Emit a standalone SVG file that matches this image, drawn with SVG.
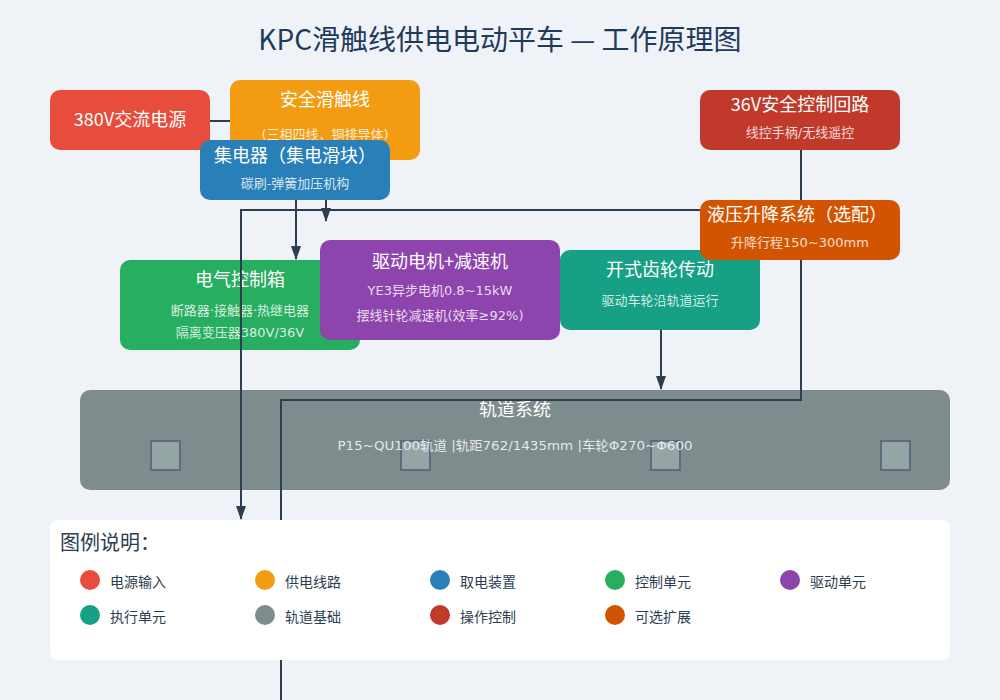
<svg xmlns="http://www.w3.org/2000/svg" width="1000" height="700" viewBox="0 0 1000 700">
<defs>
<marker id="arr" markerWidth="14" markerHeight="10" refX="13" refY="5" orient="auto" markerUnits="userSpaceOnUse">
<path d="M0,0 L14,5 L0,10 Z" fill="#2c3e50"/>
</marker>
<style>
text{font-family:"Noto Sans CJK SC","DejaVu Sans",sans-serif}
.t{fill:#fff;font-size:18px;text-anchor:middle}
.s{fill:#fff;fill-opacity:0.82;font-size:13px;text-anchor:middle;font-family:"DejaVu Sans","Noto Sans CJK SC",sans-serif}
.c{stroke:#2c3e50;stroke-width:2;fill:none}
.sq{fill:#95a5a6;stroke:#5d6d7e;stroke-width:2}
.lg{fill:#2c3e50;font-size:14px}
</style>
</defs>
<rect width="1000" height="700" fill="#eff3f8"/>
<text x="500" y="50" text-anchor="middle" font-size="28" fill="#1f3b5c">KPC滑触线供电电动平车 — 工作原理图</text>

<g id="power">
<rect x="50" y="90" width="160" height="60" rx="10" fill="#e74c3c"/>
<text class="t" x="130" y="126">380V交流电源</text>
</g>
<g id="rail-line">
<rect x="230" y="80" width="190" height="80" rx="10" fill="#f39c12"/>
<text class="t" x="325" y="106">安全滑触线</text>
<text class="s" x="325" y="139">(三相四线，铜排导体)</text>
</g>
<g id="collector">
<rect x="200" y="140" width="190" height="60" rx="10" fill="#2980b9"/>
<text class="t" x="295" y="162">集电器（集电滑块）</text>
<text class="s" x="295" y="188">碳刷-弹簧加压机构</text>
</g>
<g id="control36">
<rect x="700" y="90" width="200" height="60" rx="10" fill="#c0392b"/>
<text class="t" x="800" y="111">36V安全控制回路</text>
<text class="s" x="800" y="137">线控手柄/无线遥控</text>
</g>
<g id="cabinet">
<rect x="120" y="260" width="240" height="90" rx="10" fill="#27ae60"/>
<text class="t" x="240" y="286">电气控制箱</text>
<text class="s" x="240" y="315">断路器·接触器·热继电器</text>
<text class="s" x="240" y="337">隔离变压器380V/36V</text>
</g>
<g id="motor">
<rect x="320" y="240" width="240" height="100" rx="10" fill="#8e44ad"/>
<text class="t" x="440" y="268">驱动电机+减速机</text>
<text class="s" x="440" y="295">YE3异步电机0.8~15kW</text>
<text class="s" x="440" y="320">摆线针轮减速机(效率≥92%)</text>
</g>
<g id="gear">
<rect x="560" y="250" width="200" height="80" rx="10" fill="#16a085"/>
<text class="t" x="660" y="276">开式齿轮传动</text>
<text class="s" x="660" y="305">驱动车轮沿轨道运行</text>
</g>
<g id="hydraulic">
<rect x="700" y="200" width="200" height="60" rx="10" fill="#d35400"/>
<text class="t" x="797" y="221">液压升降系统（选配）</text>
<text class="s" x="800" y="247">升降行程150~300mm</text>
</g>
<g id="track">
<rect x="80" y="390" width="870" height="100" rx="10" fill="#7f8c8d"/>
<rect class="sq" x="151" y="441" width="29" height="29"/>
<rect class="sq" x="401" y="441" width="29" height="29"/>
<rect class="sq" x="651" y="441" width="29" height="29"/>
<rect class="sq" x="881" y="441" width="29" height="29"/>
<text class="t" x="515" y="416">轨道系统</text>
<text class="s" x="515" y="450" textLength="355" lengthAdjust="spacingAndGlyphs">P15~QU100轨道 |轨距762/1435mm |车轮Φ270~Φ600</text>
</g>

<g id="connectors">
<line class="c" x1="210" y1="121" x2="230" y2="121"/>
<line class="c" x1="296" y1="200" x2="296" y2="259" marker-end="url(#arr)"/>
<line class="c" x1="326" y1="200" x2="326" y2="221" marker-end="url(#arr)"/>
<polyline class="c" points="700,210 241,210 241,519" marker-end="url(#arr)"/>
<line class="c" x1="801" y1="150" x2="801" y2="200"/>
<polyline class="c" points="801,260 801,400 281,400 281,700"/>
<line class="c" x1="661" y1="330" x2="661" y2="389" marker-end="url(#arr)"/>
</g>

<g id="legend">
<rect x="50" y="520" width="900" height="140" rx="8" fill="#ffffff"/>
<text x="60" y="550" font-size="20" fill="#2c3e50">图例说明：</text>
<circle cx="90" cy="580" r="10" fill="#e74c3c"/><text class="lg" x="110" y="587">电源输入</text>
<circle cx="265" cy="580" r="10" fill="#f39c12"/><text class="lg" x="285" y="587">供电线路</text>
<circle cx="440" cy="580" r="10" fill="#2980b9"/><text class="lg" x="460" y="587">取电装置</text>
<circle cx="615" cy="580" r="10" fill="#27ae60"/><text class="lg" x="635" y="587">控制单元</text>
<circle cx="790" cy="580" r="10" fill="#8e44ad"/><text class="lg" x="810" y="587">驱动单元</text>
<circle cx="90" cy="615" r="10" fill="#16a085"/><text class="lg" x="110" y="622">执行单元</text>
<circle cx="265" cy="615" r="10" fill="#7f8c8d"/><text class="lg" x="285" y="622">轨道基础</text>
<circle cx="440" cy="615" r="10" fill="#c0392b"/><text class="lg" x="460" y="622">操作控制</text>
<circle cx="615" cy="615" r="10" fill="#d35400"/><text class="lg" x="635" y="622">可选扩展</text>
</g>
</svg>
